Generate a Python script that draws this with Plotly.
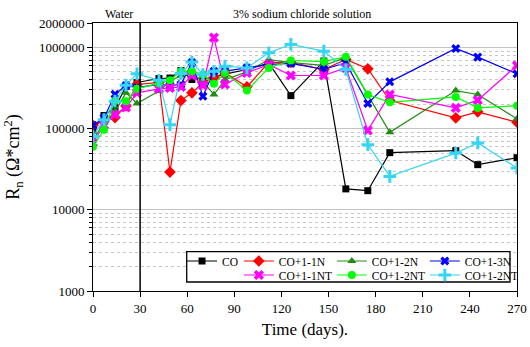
import numpy as np
import plotly.graph_objects as go

# ---- data ----
days = [0, 7, 14, 21, 28, 42, 49, 56, 63, 70, 77, 84, 98, 112, 126, 147, 161, 175, 189, 231, 245, 270]

co = [95000, 145000, 180000, 330000, 370000, 414000, 420000, 520000, 403000, 410000, 426000, 470000,
      535000, 640000, 255000, 680000, 18100, 17200, 50600, 53500, 36000, 43800]
co_1n = [110000, 125000, 137000, 190000, 350000, 370000, 29200, 222000, 276000, 370000, 426000, 490000,
         327000, 654000, 654000, 535000, 710000, 546000, 222000, 136000, 161000, 120000]
co_2n = [72000, 118000, 162000, 276000, 204000, 290000, 380000, 450000, 480000, 380000, 263000, 400000,
         500000, 710000, 650000, 600000, 750000, 263000, 90000, 294000, 263000, 132000]
co_3n = [110000, 135000, 265000, 340000, 320000, 350000, 340000, 350000, 650000, 250000, 510000, 510000,
         560000, 617000, 635000, 535000, 650000, 204000, 377000, 972000, 760000, 473000]
co_1nt = [67000, 110000, 149000, 182000, 276000, 309000, 318000, 327000, 451000, 340000, 1320000, 350000,
          486000, 617000, 451000, 451000, 560000, 95000, 263000, 180000, 224000, 600000]
co_2nt = [60000, 97000, 221000, 218000, 309000, 360000, 395000, 510000, 510000, 464000, 356000, 486000,
          295000, 560000, 690000, 670000, 767000, 263000, 211000, 246000, 180000, 192000]
co_2nt_b = [80000, 129000, 218000, 343000, 473000, 395000, 112000, 478000, 660000, 464000, 510000, 588000,
            560000, 860000, 1090000, 900000, 535000, 63500, 25800, 50000, 66700, 32700]

series_names = ["CO", "CO+1-1N", "CO+1-2N", "CO+1-3N", "CO+1-1NT", "CO+1-2NT", "CO+1-2NT"]
series_values = [co, co_1n, co_2n, co_3n, co_1nt, co_2nt, co_2nt_b]

x_ticks = [0, 30, 60, 90, 120, 150, 180, 210, 240, 270]
y_ticks = [1000, 10000, 100000, 1000000, 2000000]
y_ticktext = ["1000", "10000", "100000", "1000000", "2000000"]

# ---- styles ----
colors = ["#000000", "#FF0000", "#238B14", "#0000FF", "#FF00FF", "#00FF00", "#33D6F5"]
symbols = ["square", "diamond", "triangle-up", "x", "x", "circle", "cross-thin"]
sizes = [7, 9, 8, 8, 9, 8, 9]
legends = ["legend", "legend3", "legend3", "legend3", "legend2", "legend2", "legend2"]

FONT = "Liberation Serif, Times New Roman, DejaVu Serif, serif"

fig = go.Figure()
for name, vals, c, s, sz, lg in zip(series_names, series_values, colors, symbols, sizes, legends):
    mk = dict(symbol=s, size=sz, color=c)
    if s == "cross-thin":
        mk["line"] = dict(color=c, width=3)
    else:
        mk["line"] = dict(color=c, width=0)
    fig.add_trace(go.Scatter(x=days, y=vals, mode="lines+markers", name=name,
                             line=dict(color=c, width=1.2), marker=mk, legend=lg))

minor_vals = [m * 10 ** k for k in range(3, 6) for m in range(2, 10)]

leg_common = dict(orientation="h", xanchor="left", yanchor="top", bgcolor="rgba(0,0,0,0)",
                  borderwidth=0, font=dict(family=FONT, size=11.5, color="black"))

fig.update_layout(
    width=530, height=347,
    margin=dict(l=93, r=13, t=23, b=56, autoexpand=False),
    paper_bgcolor="white", plot_bgcolor="white",
    font=dict(family=FONT, size=13, color="black"),
    showlegend=True,
    legend=dict(x=0.21, y=0.166, **leg_common),
    legend3=dict(x=0.344, y=0.166, entrywidth=48, **leg_common),
    legend2=dict(x=0.344, y=0.1138, entrywidth=48, **leg_common),
    xaxis=dict(range=[0, 270], tickvals=x_ticks, ticks="outside", ticklen=5, tickcolor="black",
               showgrid=False, zeroline=False, showline=True, linecolor="black", linewidth=1,
               mirror=True, tickfont=dict(family=FONT, size=13),
               title=dict(text="Time (days).", font=dict(family=FONT, size=17), standoff=8)),
    yaxis=dict(type="log", range=[3, np.log10(2000000)], tickvals=y_ticks, ticktext=y_ticktext,
               ticks="outside", ticklen=5, tickcolor="black",
               showgrid=True, gridcolor="#c4c4c4", gridwidth=1,
               zeroline=False, showline=True, linecolor="black", linewidth=1, mirror=True,
               tickfont=dict(family=FONT, size=13),
               minor=dict(tickvals=minor_vals, ticks="outside", ticklen=3, tickcolor="black",
                          showgrid=True, gridcolor="#c8c8c8", griddash="dot", gridwidth=1),
               title=dict(text="R<sub>n</sub> (Ω*cm<sup>2</sup>)", font=dict(family=FONT, size=18),
                          standoff=14)),
    shapes=[
        dict(type="line", xref="x", yref="paper", x0=30, x1=30, y0=0, y1=1,
             line=dict(color="black", width=1.5)),
        dict(type="rect", xref="paper", yref="paper", x0=0.221, x1=0.9835, y0=0.0336, y1=0.1466,
             fillcolor="white", line=dict(color="black", width=1.3), layer="above"),
    ],
    annotations=[
        dict(text="Water", xref="paper", yref="paper", x=0.0236, y=1.0, xanchor="left", yanchor="bottom",
             showarrow=False, font=dict(family=FONT, size=12)),
        dict(text="3% sodium chloride solution", xref="paper", yref="paper", x=0.493, y=1.0,
             xanchor="center", yanchor="bottom", showarrow=False, font=dict(family=FONT, size=12)),
    ],
)

fig.write_html("out.html", config={"displayModeBar": False},
               post_script="document.body.style.margin='0px';document.body.style.padding='0px';")
